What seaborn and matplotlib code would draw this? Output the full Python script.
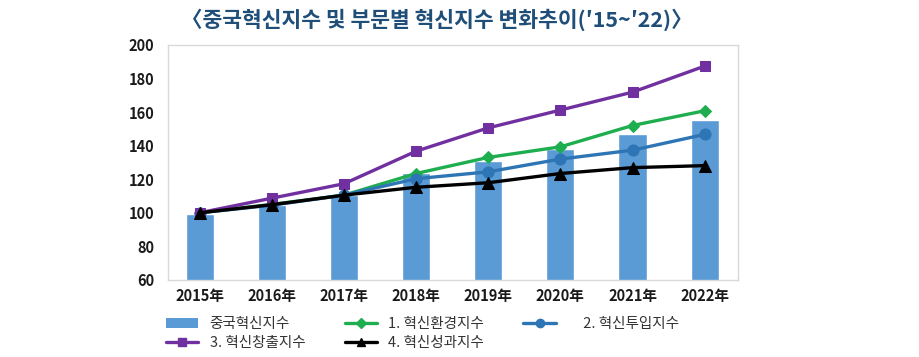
#!/usr/bin/env python3
import pandas as pd
import numpy as np
import matplotlib.pyplot as plt
import seaborn as sns
from matplotlib.patches import Patch
from matplotlib.lines import Line2D

sns.set_style("white")
plt.rcParams['font.family'] = ['Noto Sans CJK KR', 'DejaVu Sans']

years = ['2015年', '2016年', '2017年', '2018年', '2019年', '2020年', '2021年', '2022年']
china_index = [99.5, 104.5, 110.5, 124, 131, 138, 147, 155.5]
env_index = [100, 105, 110.5, 123.4, 133, 139.3, 152, 160.8]
input_index = [100, 104.5, 110.5, 120.3, 124.4, 132, 137.3, 146.7]
output_index = [100, 108.7, 117.3, 136.7, 150.6, 161.2, 171.9, 187.4]
perf_index = [100, 104.8, 110.5, 115.2, 117.9, 123.4, 126.9, 128.1]

bar_label = '중국혁신지수'
series = [
    ('1. 혁신환경지수', env_index, '#1fae4f', 'D', 6.5),
    ('     2. 혁신투입지수', input_index, '#2e75b6', 'o', 8),
    ('3. 혁신창출지수', output_index, '#7030a0', 's', 7.5),
    ('4. 혁신성과지수', perf_index, '#000000', '^', 8),
]

df = pd.DataFrame({'year': years, 'china': china_index})

fig = plt.figure(figsize=(9.2, 3.57), dpi=100)
ax = fig.add_axes([0.1826, 0.216, 0.6194, 0.658])

sns.barplot(data=df, x='year', y='china', color='#5b9bd5', saturation=1,
            width=0.39, ax=ax)

for name, vals, col, mk, ms in series:
    x = np.arange(len(years))
    sns.lineplot(x=x, y=vals, color=col, marker=mk, markersize=ms,
                 markeredgecolor=col, linewidth=2.4, ax=ax)

ax.set_xlim(-0.44, 7.46)
ax.set_ylim(60, 200)
ax.set_yticks(range(60, 201, 20))
ax.set_xlabel('')
ax.set_ylabel('')
for sp in ax.spines.values():
    sp.set_color('#d9d9d9')
    sp.set_linewidth(1)
ax.tick_params(axis='both', length=0, labelsize=10.5, colors='#1a1a1a', pad=6)
ax.tick_params(axis='y', pad=10)
for lbl in ax.get_xticklabels() + ax.get_yticklabels():
    lbl.set_fontweight('bold')

fig.text(0.475, 0.945, '〈중국혁신지수 및 부문별 혁신지수 변화추이(′15~′22)〉',
         ha='center', va='center', fontsize=15.5, fontweight='bold',
         color='#1f4e79')

# legend handles, ordered so the column-wise fill reads row by row
items = [(Patch(facecolor='#5b9bd5', edgecolor='none'), bar_label)]
for name, vals, col, mk, ms in series:
    items.append((Line2D([], [], color=col, marker=mk, markersize=ms * 0.75,
                         linewidth=2.4), name))
order = [0, 3, 1, 4, 2]
handles = [items[i][0] for i in order]
labels = [items[i][1] for i in order]

fig.legend(handles, labels, ncol=3, loc='upper left',
           bbox_to_anchor=(0.166, 0.148), frameon=False, fontsize=10.5,
           handlelength=2.2, columnspacing=2.7, handletextpad=0.8,
           labelspacing=0.35, labelcolor='#333333')

fig.savefig('out.png', dpi=100)
